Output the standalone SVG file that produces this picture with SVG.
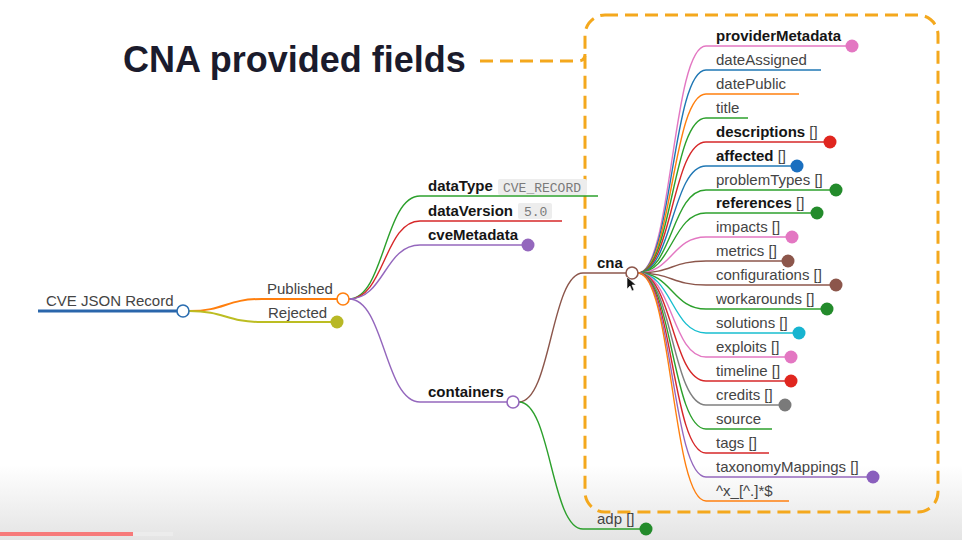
<svg xmlns="http://www.w3.org/2000/svg" width="962" height="540" viewBox="0 0 962 540">
<defs>
<linearGradient id="bg" gradientUnits="userSpaceOnUse" x1="0" y1="465" x2="0" y2="540">
<stop offset="0" stop-color="#ffffff"/>
<stop offset="1" stop-color="#e4e4e4"/>
</linearGradient>
</defs>
<style>
text{font-family:"Liberation Sans",Arial,Helvetica,sans-serif;font-size:15px;fill:#444}
.b{font-weight:bold;fill:#151515}
.n{font-weight:normal;fill:#444}
.code{font-family:"Liberation Mono","DejaVu Sans Mono",monospace;font-size:13px;fill:#7a7a7a}
.codebg{fill:#ededed}
.title{font-size:36px;font-weight:bold;fill:#1b1b2c}
.link{fill:none;stroke-width:1.4}
.ul{fill:none;stroke-width:1.4}
.open{fill:#fff;stroke-width:1.6}
.dash{fill:none;stroke:#f4a81d;stroke-width:3;stroke-dasharray:13 7}
.c1{stroke:#1f77b4}.c2{stroke:#ff7f0e}.c3{stroke:#2ca02c}.c4{stroke:#d62728}.c5{stroke:#9467bd}.c6{stroke:#8c564b}.c7{stroke:#e377c2}.c8{stroke:#7f7f7f}.c9{stroke:#bcbd22}.c10{stroke:#17becf}
</style>
<rect x="0" y="0" width="962" height="540" fill="url(#bg)"/>

<g id="title">
<text class="title" x="123" y="72">CNA provided fields</text>
<path class="dash" d="M480,61 H578 Q585,61 585,54"/>
<rect class="dash" x="585" y="15" width="353" height="497" rx="20"/>
</g>

<g id="connectors">
<path class="link c2" style="stroke-width:2" d="M189,311 C225.5,311 225.5,299 262,299"/>
<path class="link c9" style="stroke-width:2" d="M189,311 C225.5,311 225.5,322 262,322"/>
<path class="link c3" d="M349,299 C384.5,299 384.5,196 420,196"/>
<path class="link c4" d="M349,299 C384.5,299 384.5,221 420,221"/>
<path class="link c5" d="M349,299 C384.5,299 384.5,245 420,245"/>
<path class="link c5" d="M349,299 C384.5,299 384.5,402 420,402"/>
<path class="link c6" d="M519,402 C551,402 551,273 583,273"/>
<path class="link c3" d="M519,402 C551,402 551,529 583,529"/>
<path class="link c7" d="M638,273 C672,273 672,46 706,46"/>
<path class="link c1" d="M638,273 C672,273 672,70 706,70"/>
<path class="link c2" d="M638,273 C672,273 672,94 706,94"/>
<path class="link c3" d="M638,273 C672,273 672,118 706,118"/>
<path class="link c4" d="M638,273 C672,273 672,142 706,142"/>
<path class="link c1" d="M638,273 C672,273 672,166 706,166"/>
<path class="link c3" d="M638,273 C672,273 672,190 706,190"/>
<path class="link c3" d="M638,273 C672,273 672,213 706,213"/>
<path class="link c7" d="M638,273 C672,273 672,237 706,237"/>
<path class="link c6" d="M638,273 C672,273 672,261 706,261"/>
<path class="link c6" d="M638,273 C672,273 672,285 706,285"/>
<path class="link c3" d="M638,273 C672,273 672,309 706,309"/>
<path class="link c10" d="M638,273 C672,273 672,333 706,333"/>
<path class="link c7" d="M638,273 C672,273 672,357 706,357"/>
<path class="link c4" d="M638,273 C672,273 672,381 706,381"/>
<path class="link c8" d="M638,273 C672,273 672,405 706,405"/>
<path class="link c3" d="M638,273 C672,273 672,429 706,429"/>
<path class="link c4" d="M638,273 C672,273 672,453 706,453"/>
<path class="link c5" d="M638,273 C672,273 672,477 706,477"/>
<path class="link c2" d="M638,273 C672,273 672,501 706,501"/>
</g>

<g id="node-root">
<path class="ul" stroke="#2a66ab" style="stroke-width:3" d="M38,311 H183"/>
<text x="46" y="306">CVE JSON Record</text>
<circle class="open" stroke="#2a6db0" cx="183" cy="311" r="6"/>
</g>
<g id="node-published">
<path class="ul c2" style="stroke-width:2" d="M262,299 H343"/>
<text x="267" y="294">Published</text>
<circle class="open c2" cx="343" cy="299" r="6"/>
</g>
<g id="node-rejected">
<path class="ul c9" style="stroke-width:2" d="M262,322 H337"/>
<text x="268" y="318">Rejected</text>
<circle fill="#b8b826" cx="337" cy="322" r="6.5"/>
</g>

<g id="node-dataType">
<path class="ul c3" d="M420,196 H598"/>
<text class="b" x="428" y="191">dataType</text>
<rect class="codebg" x="498" y="179" width="89" height="16" rx="2"/>
<text class="code" x="503" y="192">CVE_RECORD</text>
</g>
<g id="node-dataVersion">
<path class="ul c4" d="M420,221 H562"/>
<text class="b" x="428" y="216">dataVersion</text>
<rect class="codebg" x="518" y="203" width="34" height="16" rx="2"/>
<text class="code" x="524" y="216">5.0</text>
</g>
<g id="node-cveMetadata">
<path class="ul c5" d="M420,245 H528"/>
<text class="b" x="428" y="240">cveMetadata</text>
<circle fill="#9467bd" cx="528" cy="245" r="6.5"/>
</g>
<g id="node-containers">
<path class="ul c5" d="M420,402 H513"/>
<text class="b" x="428" y="397">containers</text>
<circle class="open c5" cx="513" cy="402" r="6"/>
</g>
<g id="node-cna">
<path class="ul c6" d="M583,273 H632"/>
<text class="b" x="597" y="268">cna</text>
<circle class="open c6" cx="632" cy="273" r="6"/>
</g>
<g id="node-adp">
<path class="ul c3" d="M583,529 H646"/>
<text x="597" y="524">adp []</text>
<circle fill="#238b2b" cx="646" cy="529" r="6.5"/>
</g>

<g id="node-providerMetadata"><path class="ul c7" d="M706,46 H852"/><text class="b" x="716" y="41">providerMetadata</text><circle fill="#e377c2" cx="852" cy="46" r="6.5"/></g>
<g id="node-dateAssigned"><path class="ul c1" d="M706,70 H821"/><text x="716" y="65">dateAssigned</text></g>
<g id="node-datePublic"><path class="ul c2" d="M706,94 H799"/><text x="716" y="89">datePublic</text></g>
<g id="node-title"><path class="ul c3" d="M706,118 H748"/><text x="716" y="113">title</text></g>
<g id="node-descriptions"><path class="ul c4" d="M706,142 H830"/><text class="b" x="716" y="137">descriptions <tspan class="n">[]</tspan></text><circle fill="#e0261f" cx="830" cy="142" r="6.5"/></g>
<g id="node-affected"><path class="ul c1" d="M706,166 H797"/><text class="b" x="716" y="161">affected <tspan class="n">[]</tspan></text><circle fill="#1a6fbf" cx="797" cy="166" r="6.5"/></g>
<g id="node-problemTypes"><path class="ul c3" d="M706,190 H836"/><text x="716" y="185">problemTypes []</text><circle fill="#238b2b" cx="836" cy="190" r="6.5"/></g>
<g id="node-references"><path class="ul c3" d="M706,213 H817"/><text class="b" x="716" y="208">references <tspan class="n">[]</tspan></text><circle fill="#238b2b" cx="817" cy="213" r="6.5"/></g>
<g id="node-impacts"><path class="ul c7" d="M706,237 H792"/><text x="716" y="232">impacts []</text><circle fill="#e377c2" cx="792" cy="237" r="6.5"/></g>
<g id="node-metrics"><path class="ul c6" d="M706,261 H788"/><text x="716" y="256">metrics []</text><circle fill="#8c564b" cx="788" cy="261" r="6.5"/></g>
<g id="node-configurations"><path class="ul c6" d="M706,285 H836"/><text x="716" y="280">configurations []</text><circle fill="#8c564b" cx="836" cy="285" r="6.5"/></g>
<g id="node-workarounds"><path class="ul c3" d="M706,309 H827"/><text x="716" y="304">workarounds []</text><circle fill="#238b2b" cx="827" cy="309" r="6.5"/></g>
<g id="node-solutions"><path class="ul c10" d="M706,333 H799"/><text x="716" y="328">solutions []</text><circle fill="#17b4d0" cx="799" cy="333" r="6.5"/></g>
<g id="node-exploits"><path class="ul c7" d="M706,357 H791"/><text x="716" y="352">exploits []</text><circle fill="#e377c2" cx="791" cy="357" r="6.5"/></g>
<g id="node-timeline"><path class="ul c4" d="M706,381 H791"/><text x="716" y="376">timeline []</text><circle fill="#e0261f" cx="791" cy="381" r="6.5"/></g>
<g id="node-credits"><path class="ul c8" d="M706,405 H785"/><text x="716" y="400">credits []</text><circle fill="#7a7a7a" cx="785" cy="405" r="6.5"/></g>
<g id="node-source"><path class="ul c3" d="M706,429 H772"/><text x="716" y="424">source</text></g>
<g id="node-tags"><path class="ul c4" d="M706,453 H769"/><text x="716" y="448">tags []</text></g>
<g id="node-taxonomyMappings"><path class="ul c5" d="M706,477 H873"/><text x="716" y="472">taxonomyMappings []</text><circle fill="#8a5fbd" cx="873" cy="477" r="6.5"/></g>
<g id="node-pattern"><path class="ul c2" d="M706,501 H789"/><text x="716" y="496">^x_[^.]*$</text></g>

<g id="cursor">
<path d="M627,277 L627,289 L630,286 L632,291 L634,290 L632,285 L636,285 Z" fill="#111" stroke="#fff" stroke-width="0.6"/>
</g>
<g id="progress">
<rect x="0" y="532" width="133" height="4" fill="#f77a7a"/>
<rect x="133" y="532" width="40" height="4" fill="#ececec"/>
</g>
</svg>
